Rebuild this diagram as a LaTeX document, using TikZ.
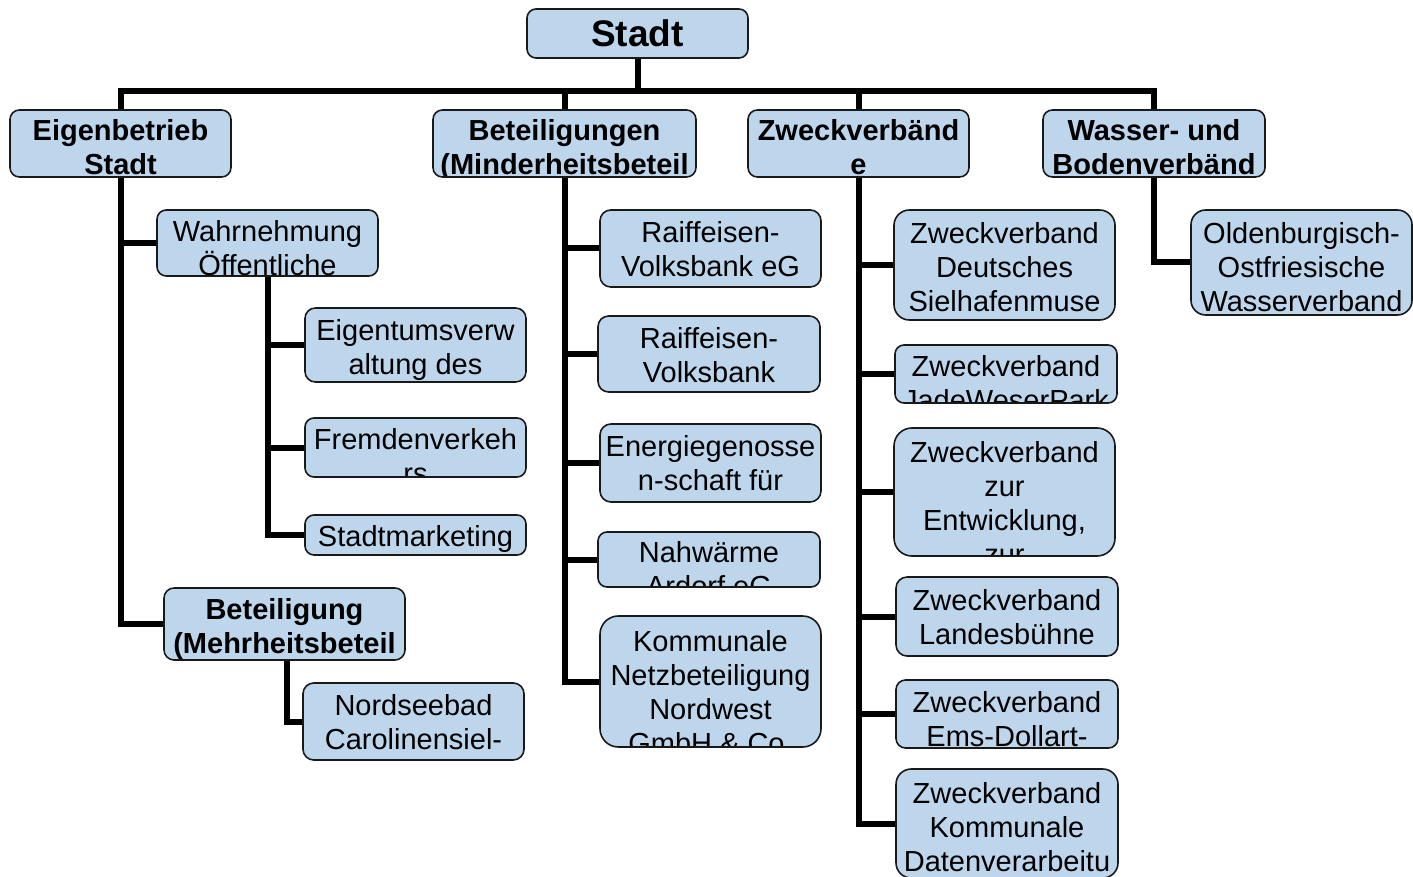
\documentclass[tikz,border=0pt]{standalone}
\usepackage{fontspec}
\setmainfont{Liberation Sans}
\definecolor{boxblue}{RGB}{190,214,236}
\newcommand\fN{\fontsize{29}{34}\selectfont}
\newcommand\fB{\bfseries\fontsize{29}{34}\selectfont}
\newcommand\fT{\bfseries\fontsize{37}{44}\selectfont}
\tikzset{
  box/.style={draw=black!90, fill=boxblue, line width=1.6pt, inner sep=0pt},
  conn/.style={draw=black, line width=6pt},
}
% #1 name, #2 x1, #3 y1, #4 x2, #5 y2, #6 first baseline offset, #7 font, #8 lines
\newcommand\ob[8]{%
  \pgfmathsetmacro\rad{max(9,0.14*(#5-#3))}%
  \node[box, rounded corners=\rad pt, minimum width={(#4-#2)*1pt}, minimum height={(#5-#3)*1pt},
    path picture={\foreach \boxline [count=\k] in {#8} {%
      \node[anchor=base, inner sep=0pt, font=#7] at ([yshift={-(#6)*1pt-(\k-1)*34pt}]path picture bounding box.north) {\boxline};}}]
    (#1) at ({(#2+#4)/2},{(#3+#5)/2}) {};}
\begin{document}
\begin{tikzpicture}[x=1pt, y=-1pt]
\useasboundingbox (0,0) rectangle (1413,877);
% boxes
\ob{stadt}{527}{9}{748}{58}{37.7}{\fT}{Stadt}
\ob{eig}{10}{110}{231}{177}{31}{\fB}{Eigenbetrieb,Stadt}
\ob{bet}{433}{110}{696}{177}{31}{\fB}{Beteiligungen,{(Minderheitsbeteil}}
\ob{zv}{748}{110}{969}{177}{31}{\fB}{Zweckverbänd,e}
\ob{wb}{1043}{110}{1265}{177}{31}{\fB}{Wasser- und,Bodenverbänd}
% Eigenbetrieb children
\ob{wahr}{157}{210}{378}{276}{31.5}{\fN}{Wahrnehmung,Öffentliche}
\ob{eigv}{305}{308}{526}{382}{32.5}{\fN}{Eigentumsverw,altung des}
\ob{frem}{305}{418}{526}{477}{31.5}{\fN}{Fremdenverkeh,rs}
\ob{smk}{305}{515}{526}{555}{31}{\fN}{Stadtmarketing}
\ob{mehr}{164}{588}{405}{660}{31.5}{\fB}{Beteiligung,{(Mehrheitsbeteil}}
\ob{nord}{303}{683}{524}{760}{32.5}{\fN}{Nordseebad,Carolinensiel-}
% Beteiligungen children
\ob{rv1}{600}{210}{821}{287}{32.5}{\fN}{Raiffeisen-,Volksbank eG}
\ob{rv2}{598}{316}{820}{392}{32.5}{\fN}{Raiffeisen-,Volksbank}
\ob{ener}{600}{424}{821}{502}{32.5}{\fN}{Energiegenosse,n-schaft für}
\ob{nahw}{598}{532}{820}{587}{30.5}{\fN}{Nahwärme,Ardorf eG}
\ob{komm}{600}{616}{821}{747}{35.5}{\fN}{Kommunale,Netzbeteiligung,Nordwest,GmbH \& Co.}
% Zweckverbaende children
\ob{z1}{894}{210}{1115}{320}{33.5}{\fN}{Zweckverband,Deutsches,Sielhafenmuse}
\ob{z2}{895}{345}{1117}{403}{31.5}{\fN}{Zweckverband,JadeWeserPark}
\ob{z3}{894}{428}{1115}{556}{34.5}{\fN}{Zweckverband,zur,{Entwicklung,},zur}
\ob{z4}{896}{577}{1118}{656}{33.5}{\fN}{Zweckverband,Landesbühne}
\ob{z5}{896}{680}{1118}{748}{32.5}{\fN}{Zweckverband,Ems-Dollart-}
\ob{z6}{896}{769}{1118}{878}{34.5}{\fN}{Zweckverband,Kommunale,Datenverarbeitu}
% Wasser children
\ob{old}{1191}{210}{1412}{315}{33.5}{\fN}{Oldenburgisch-,Ostfriesische,Wasserverband}
% connectors
\draw[conn] (eig.north) -- ++(0,-18) coordinate (bus) -| (wb.north);
\draw[conn] (stadt.south) -- (stadt.south |- bus);
\draw[conn] (bet.north) -- (bet.north |- bus);
\draw[conn] (zv.north) -- (zv.north |- bus);
\draw[conn] (eig.south) |- (wahr.west);
\draw[conn] (eig.south) |- (mehr.west);
\draw[conn] (wahr.south) |- (eigv.west);
\draw[conn] (wahr.south) |- (frem.west);
\draw[conn] (wahr.south) |- (smk.west);
\draw[conn] ([xshift=2pt]mehr.south) |- (nord.west);
\draw[conn] (bet.south) |- (rv1.west);
\draw[conn] (bet.south) |- (rv2.west);
\draw[conn] (bet.south) |- (ener.west);
\draw[conn] (bet.south) |- (nahw.west);
\draw[conn] (bet.south) |- (komm.west);
\draw[conn] (zv.south) |- (z1.west);
\draw[conn] (zv.south) |- (z2.west);
\draw[conn] (zv.south) |- (z3.west);
\draw[conn] (zv.south) |- (z4.west);
\draw[conn] (zv.south) |- (z5.west);
\draw[conn] (zv.south) |- (z6.west);
\draw[conn] (wb.south) |- (old.west);
\end{tikzpicture}
\end{document}
